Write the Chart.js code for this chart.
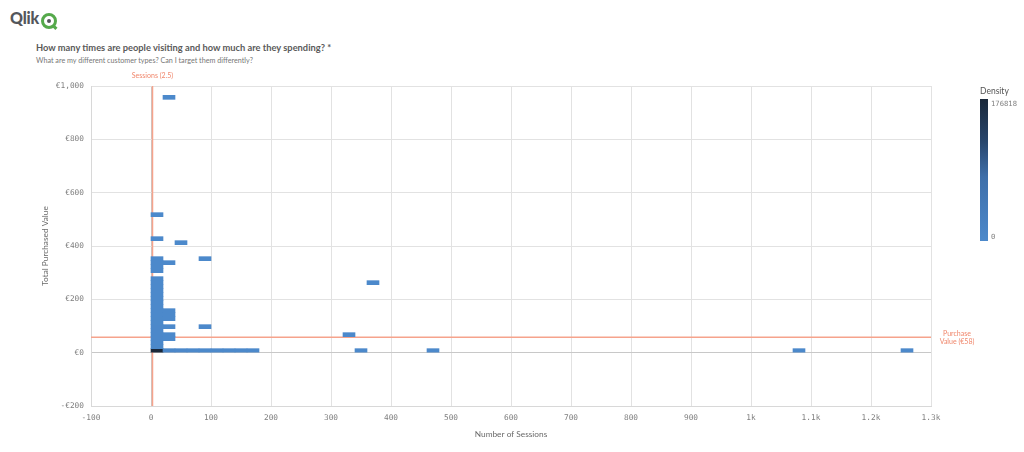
<!DOCTYPE html>
<html>
<head>
<meta charset="utf-8">
<script src="https://cdn.jsdelivr.net/npm/chart.js@4.4.1/dist/chart.umd.min.js"></script>
<style>
  html, body { margin: 0; padding: 0; background: #fff; }
  body { width: 1024px; height: 452px; position: relative; overflow: hidden; font-family: Lato, "Open Sans", sans-serif; }
  #logo { position: absolute; left: 10px; top: 8px; height: 22px; }
  #logo .word { position: absolute; left: 0; top: 0; font-size: 16px; font-weight: 900; color: #54565b; letter-spacing: -0.2px; }
  #logo .q { position: absolute; left: 31px; top: 5px; width: 10px; height: 10px; border: 3px solid #55a94b; border-radius: 50%; }
  #logo .q i { position: absolute; left: 3px; top: 3px; width: 4px; height: 4px; border-radius: 50%; background: #54565b; }
  #logo .q b { position: absolute; left: 9px; top: 10px; width: 4px; height: 3px; background: #55a94b; transform: rotate(45deg); }
  #title { position: absolute; left: 36px; top: 42px; font-size: 9.3px; font-weight: bold; color: #5a5a5a; white-space: nowrap; }
  #subtitle { position: absolute; left: 36px; top: 56px; font-size: 7.2px; color: #777; white-space: nowrap; }
  canvas { position: absolute; left: 0; top: 0; }
</style>
</head>
<body>
<div id="logo"><span class="word">Qlik</span><span class="q"><i></i><b></b></span></div>
<div id="title">How many times are people visiting and how much are they spending? *</div>
<div id="subtitle">What are my different customer types? Can I target them differently?</div>
<canvas id="chart" width="1024" height="452"></canvas>
<script>
// axis ticks
var xTickValues = [-100, 0, 100, 200, 300, 400, 500, 600, 700, 800, 900, 1000, 1100, 1200, 1300];
var xTickLabels = ['-100', '0', '100', '200', '300', '400', '500', '600', '700', '800', '900', '1k', '1.1k', '1.2k', '1.3k'];
var yTickValues = [-200, 0, 200, 400, 600, 800, 1000];
var yTickLabels = ['-\u20ac200', '\u20ac0', '\u20ac200', '\u20ac400', '\u20ac600', '\u20ac800', '\u20ac1,000'];

// density cells: lower-left corner (sessions, purchased value) and density
var binSessions = 20;
var binValue = 15;
var cellSessions = [
  0, 0, 0, 0, 0, 0, 0, 0, 0, 0, 0, 0, 0, 0, 0, 0, 0, 0, 0,
  0, 0, 0, 0, 0, 0,
  20, 20, 20, 20, 20, 20, 20, 20, 20,
  40, 40, 60, 80, 80, 80, 100, 120, 140, 160,
  320, 340, 360, 460, 1070, 1250
];
var cellValues = [
  0, 15, 30, 45, 60, 75, 90, 105, 120, 135, 150, 165, 180, 195, 210, 225, 240, 255, 270,
  300, 315, 330, 345, 420, 510,
  0, 45, 60, 90, 120, 135, 150, 330, 950,
  0, 405, 0, 0, 90, 345, 0, 0, 0, 0,
  60, 0, 255, 0, 0, 0
];
var cellDensity = [
  176818, 4200, 3100, 2600, 2200, 1900, 1700, 1500, 1300, 1150, 1000, 900, 800, 700, 620, 540, 470, 400, 340,
  260, 220, 190, 160, 90, 60,
  5200, 420, 380, 260, 300, 280, 240, 120, 30,
  2100, 40, 1100, 760, 90, 50, 520, 360, 240, 160,
  20, 40, 20, 30, 10, 10
];

// reference lines
var sessionsRef = 2.5;
var purchaseRef = 58;
var densityMax = 176818;

var colorStops = [
  [0, [76, 137, 203]],
  [0.45, [62, 111, 170]],
  [0.7, [40, 70, 108]],
  [1, [26, 40, 58]]
];

function densityColor(d) {
  var t = Math.max(0, Math.min(1, d / densityMax));
  for (var i = 1; i < colorStops.length; i++) {
    if (t <= colorStops[i][0]) {
      var a = colorStops[i - 1], b = colorStops[i];
      var f = (t - a[0]) / (b[0] - a[0]);
      var c = a[1].map(function (v, k) { return Math.round(v + (b[1][k] - v) * f); });
      return 'rgb(' + c.join(',') + ')';
    }
  }
  return 'rgb(26,40,58)';
}

var cells = cellSessions.map(function (s, i) {
  return { x: s + binSessions / 2, y: [cellValues[i], cellValues[i] + binValue], d: cellDensity[i] };
});

var monoFont = '"DejaVu Sans Mono", monospace';
var labelFont = 'Lato, "Open Sans", sans-serif';

var overlayPlugin = {
  id: 'overlay',
  afterDraw: function (chart) {
    var ctx = chart.ctx, area = chart.chartArea;
    var x = chart.scales.x, y = chart.scales.y;
    ctx.save();
    // reference labels
    ctx.fillStyle = '#f0876c';
    ctx.font = '7px ' + labelFont;
    ctx.textAlign = 'center';
    ctx.textBaseline = 'middle';
    ctx.fillText('Sessions (' + sessionsRef + ')', x.getPixelForValue(sessionsRef), area.top - 10);
    var py = y.getPixelForValue(purchaseRef);
    ctx.fillText('Purchase', 957, py - 3);
    ctx.fillText('Value (\u20ac' + purchaseRef + ')', 957, py + 5);

    // density legend
    ctx.fillStyle = '#555';
    ctx.font = '8.5px ' + labelFont;
    ctx.textAlign = 'left';
    ctx.fillText('Density', 980, 91);
    var top = 99, bottom = 241;
    var g = ctx.createLinearGradient(0, bottom, 0, top);
    colorStops.forEach(function (s) { g.addColorStop(s[0], 'rgb(' + s[1].join(',') + ')'); });
    ctx.fillStyle = g;
    ctx.fillRect(980, top, 8, bottom - top);
    ctx.fillStyle = '#7f7f7f';
    ctx.font = '7.2px ' + monoFont;
    ctx.fillText(String(densityMax), 991, top + 5);
    ctx.fillText('0', 991, bottom - 4);
    ctx.restore();
  }
};

new Chart(document.getElementById('chart'), {
  type: 'bar',
  data: {
    datasets: [{
      label: 'Density',
      data: cells,
      backgroundColor: function (c) { return c.raw ? densityColor(c.raw.d) : '#4c89cb'; },
      borderWidth: 0,
      barThickness: 12,
      grouped: false,
      order: 1
    }, {
      type: 'line',
      label: 'Sessions',
      data: [{ x: sessionsRef, y: -200 }, { x: sessionsRef, y: 1000 }],
      borderColor: '#f6a38c',
      borderWidth: 1.5,
      pointRadius: 0,
      order: 2
    }, {
      type: 'line',
      label: 'Purchase Value',
      data: [{ x: -100, y: purchaseRef }, { x: 1300, y: purchaseRef }],
      borderColor: '#f6a38c',
      borderWidth: 1.5,
      pointRadius: 0,
      order: 2
    }]
  },
  options: {
    responsive: false,
    animation: false,
    layout: { padding: { left: 36, right: 93, top: 86, bottom: 0 } },
    plugins: { legend: { display: false }, tooltip: { enabled: false } },
    scales: {
      x: {
        type: 'linear',
        min: -100,
        max: 1300,
        offset: false,
        afterFit: function (s) { s.height = 46; },
        afterBuildTicks: function (s) { s.ticks = xTickValues.map(function (v) { return { value: v }; }); },
        grid: {
          offset: false,
          drawTicks: false,
          color: function (c) { return c.tick && c.tick.value === 0 ? '#c8c8c8' : '#e2e2e2'; }
        },
        border: { color: '#d8d8d8' },
        ticks: {
          padding: 7,
          color: '#7f7f7f',
          font: { family: monoFont, size: 7.8 },
          maxRotation: 0,
          autoSkip: false,
          callback: function (v) { var i = xTickValues.indexOf(v); return i >= 0 ? xTickLabels[i] : ''; }
        },
        title: {
          display: true,
          text: 'Number of Sessions',
          color: '#6a6a6a',
          font: { family: labelFont, size: 8.3 },
          padding: { top: 0, bottom: 13 }
        }
      },
      y: {
        type: 'linear',
        min: -200,
        max: 1000,
        afterFit: function (s) { s.width = 55; },
        afterBuildTicks: function (s) { s.ticks = yTickValues.map(function (v) { return { value: v }; }); },
        grid: {
          drawTicks: false,
          color: function (c) { return c.tick && c.tick.value === 0 ? '#c8c8c8' : '#e2e2e2'; }
        },
        border: { color: '#d8d8d8' },
        ticks: {
          padding: 7,
          color: '#7f7f7f',
          font: { family: monoFont, size: 7.8 },
          autoSkip: false,
          callback: function (v) { var i = yTickValues.indexOf(v); return i >= 0 ? yTickLabels[i] : ''; }
        },
        title: {
          display: true,
          text: 'Total Purchased Value',
          color: '#6a6a6a',
          font: { family: labelFont, size: 8.3 },
          padding: { top: 4, bottom: 0 }
        }
      }
    }
  },
  plugins: [overlayPlugin]
});
</script>
</body>
</html>
